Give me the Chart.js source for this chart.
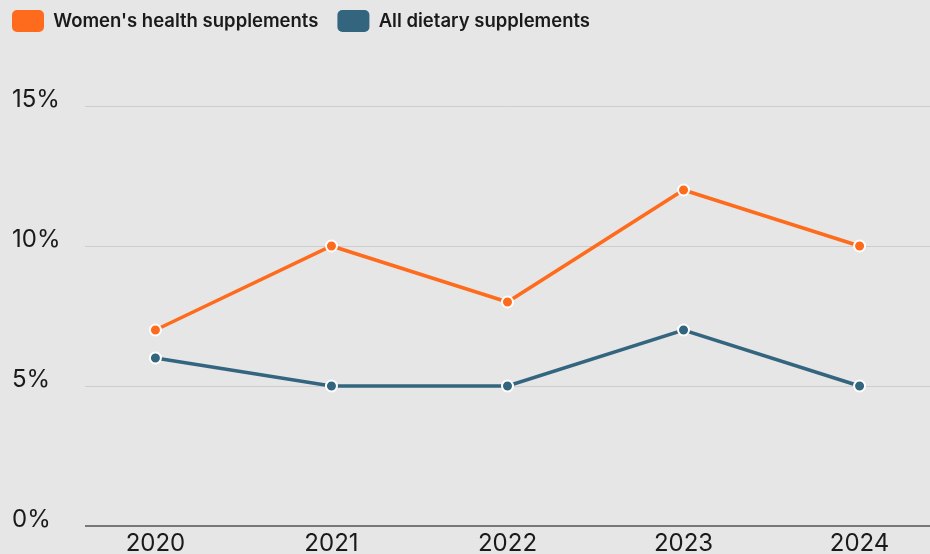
<!DOCTYPE html>
<html>
<head>
<meta charset="utf-8">
<script src="https://cdn.jsdelivr.net/npm/chart.js@4/dist/chart.umd.min.js"></script>
<style>
  html, body { margin: 0; padding: 0; background: #e6e6e6; }
  #wrap { width: 930px; height: 554px; position: relative; }
</style>
</head>
<body>
<div id="wrap"><canvas id="chart"></canvas></div>
<script>
// Years along the x axis
const years = [2020, 2021, 2022, 2023, 2024];

// Share of growth, in percent
const womensHealth = [7, 10, 8, 12, 10];
const allDietary = [6, 5, 5, 7, 5];

// Y axis tick values
const yTicks = [0, 5, 10, 15];

const ORANGE = "#fe6b1c";
const BLUE = "#33657f";
const TEXT = "#1a1a1a";
const LEGEND_PAD = 19;

// Draws the percent labels sitting on top of each grid line
const yLabels = {
  id: "yLabels",
  afterDraw(chart) {
    const ctx = chart.ctx;
    const y = chart.scales.y;
    ctx.save();
    ctx.fillStyle = TEXT;
    ctx.font = "400 24px Inter, 'Noto Sans', sans-serif";
    ctx.textAlign = "left";
    ctx.textBaseline = "alphabetic";
    yTicks.forEach((v) => {
      ctx.fillText(v + "%", 12, y.getPixelForValue(v) + 1);
    });
    ctx.restore();
  },
};

// Leaves room between the legend and the top of the plot,
// and pulls the legend row up into the corner
const legendSpace = {
  id: "legendSpace",
  beforeInit(chart) {
    const fit = chart.legend.fit;
    chart.legend.fit = function () {
      fit.call(this);
      this.height = 106;
    };
  },
  afterLayout(chart) {
    chart.legend.left = 12 - LEGEND_PAD;
    chart.legend.top = 10 - LEGEND_PAD;
  },
};

function series(values) {
  return years.map((yr, i) => ({ x: yr, y: values[i] }));
}

new Chart(document.getElementById("chart"), {
  type: "line",
  plugins: [legendSpace, yLabels],
  data: {
    datasets: [
      {
        label: "Women's health supplements",
        data: series(womensHealth),
        borderColor: ORANGE,
        backgroundColor: ORANGE,
        pointBackgroundColor: ORANGE,
        pointBorderColor: "#ffffff",
      },
      {
        label: "All dietary supplements",
        data: series(allDietary),
        borderColor: BLUE,
        backgroundColor: BLUE,
        pointBackgroundColor: BLUE,
        pointBorderColor: "#ffffff",
      },
    ],
  },
  options: {
    responsive: true,
    maintainAspectRatio: false,
    animation: false,
    layout: { padding: 0, autoPadding: false },
    elements: {
      line: { borderWidth: 3.5, tension: 0 },
      point: { radius: 5.5, borderWidth: 2, hoverRadius: 5.5 },
    },
    plugins: {
      tooltip: { enabled: false },
      legend: {
        position: "top",
        align: "start",
        labels: {
          boxWidth: 32,
          boxHeight: 22,
          padding: LEGEND_PAD,
          useBorderRadius: true,
          borderRadius: 5,
          color: TEXT,
          font: { family: "Inter, 'Noto Sans', sans-serif", size: 18.5, weight: "600" },
          generateLabels(chart) {
            return chart.data.datasets.map((ds, i) => ({
              text: ds.label,
              fillStyle: ds.borderColor,
              strokeStyle: ds.borderColor,
              lineWidth: 0,
              borderRadius: 5,
              fontColor: TEXT,
              datasetIndex: i,
            }));
          },
        },
      },
    },
    scales: {
      x: {
        type: "linear",
        min: 2019.6,
        max: 2024.4,
        afterFit(scale) {
          scale.height = 28;
          scale.paddingLeft = 0;
          scale.paddingRight = 0;
        },
        afterBuildTicks(scale) { scale.ticks = years.map((v) => ({ value: v })); },
        grid: { display: false, drawTicks: false },
        border: { display: false },
        ticks: {
          color: TEXT,
          padding: 3,
          font: { family: "Inter, 'Noto Sans', sans-serif", size: 24 },
          callback: (v) => String(v),
        },
      },
      y: {
        min: 0,
        max: 15,
        afterFit(scale) {
          scale.width = 85;
          scale.paddingTop = 0;
          scale.paddingBottom = 0;
        },
        afterBuildTicks(scale) { scale.ticks = yTicks.map((v) => ({ value: v })); },
        grid: {
          drawTicks: false,
          color: (c) => (c.tick && c.tick.value === 0 ? "#777777" : "#cdcdcd"),
          lineWidth: (c) => (c.tick && c.tick.value === 0 ? 2 : 1),
        },
        border: { display: false },
        ticks: { display: false },
      },
    },
  },
});
</script>
</body>
</html>
